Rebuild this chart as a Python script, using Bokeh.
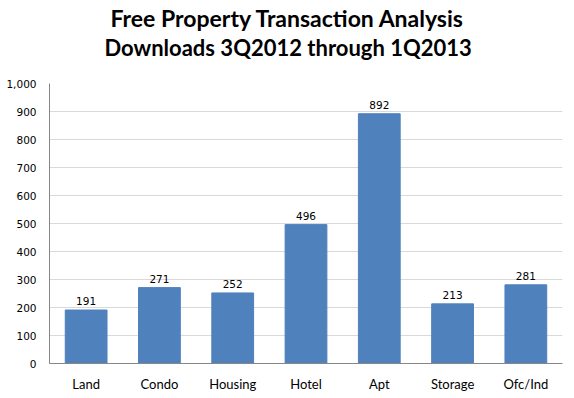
from bokeh.plotting import figure
from bokeh.models import Title, NumeralTickFormatter, FixedTicker, ColumnDataSource
from bokeh.core.properties import value
from bokeh.embed import file_html
from bokeh.resources import INLINE

categories = ["Land", "Condo", "Housing", "Hotel", "Apt", "Storage", "Ofc/Ind"]
downloads = [191, 271, 252, 496, 892, 213, 281]
y_ticks = [0, 100, 200, 300, 400, 500, 600, 700, 800, 900, 1000]
title_lines = ["Free Property Transaction Analysis", "Downloads 3Q2012 through 1Q2013"]

src = ColumnDataSource(dict(cat=categories, val=downloads, lbl=[str(v) for v in downloads]))

p = figure(x_range=categories, y_range=(0, 1000), width=574, height=398,
           output_backend="svg", toolbar_location=None,
           min_border_left=49, min_border_right=12, min_border_bottom=35, min_border_top=83)
p.outline_line_color = None
p.background_fill_color = "white"
p.border_fill_color = "white"

p.vbar(x="cat", top="val", width=0.57, source=src, color="#4F81BD")
p.text(x="cat", y="val", text="lbl", source=src, text_align="center", text_baseline="bottom",
       y_offset=-5, text_font=value("DejaVu Sans"), text_font_size="10.5px", text_color="#000000")

# spacer between the frame and the title block
spacer = Title(text=" ", text_font_size="1px", standoff=20)
t2 = Title(text=title_lines[1], align="left", text_font="Lato",
           text_font_size="22px", text_font_style="bold", text_color="#000000",
           standoff=0, offset=55)
t1 = Title(text=title_lines[0], align="left", text_font="Lato",
           text_font_size="23px", text_font_style="bold", text_color="#000000",
           standoff=0, offset=61)
p.add_layout(spacer, "above")
p.add_layout(t2, "above")
p.add_layout(t1, "above")

p.x_range.range_padding = 0
p.xgrid.grid_line_color = None
p.ygrid.grid_line_color = "#D9D9D9"
p.yaxis.ticker = FixedTicker(ticks=y_ticks)
p.yaxis.formatter = NumeralTickFormatter(format="0,0")
for ax in (p.xaxis, p.yaxis):
    ax.axis_line_color = "#868686"
    ax.major_tick_line_color = None
    ax.minor_tick_line_color = None
    ax.major_tick_out = 0
    ax.major_tick_in = 0
    ax.minor_tick_out = 0
    ax.major_label_text_color = "#000000"
p.yaxis.major_label_text_font = "DejaVu Sans"
p.yaxis.major_label_text_font_size = "10.5px"
p.yaxis.major_label_standoff = 13
p.xaxis.major_label_text_font = "Lato"
p.xaxis.major_label_text_font_size = "13px"
p.xaxis.major_label_standoff = 12

open("out.html", "w").write(file_html(p, INLINE))
